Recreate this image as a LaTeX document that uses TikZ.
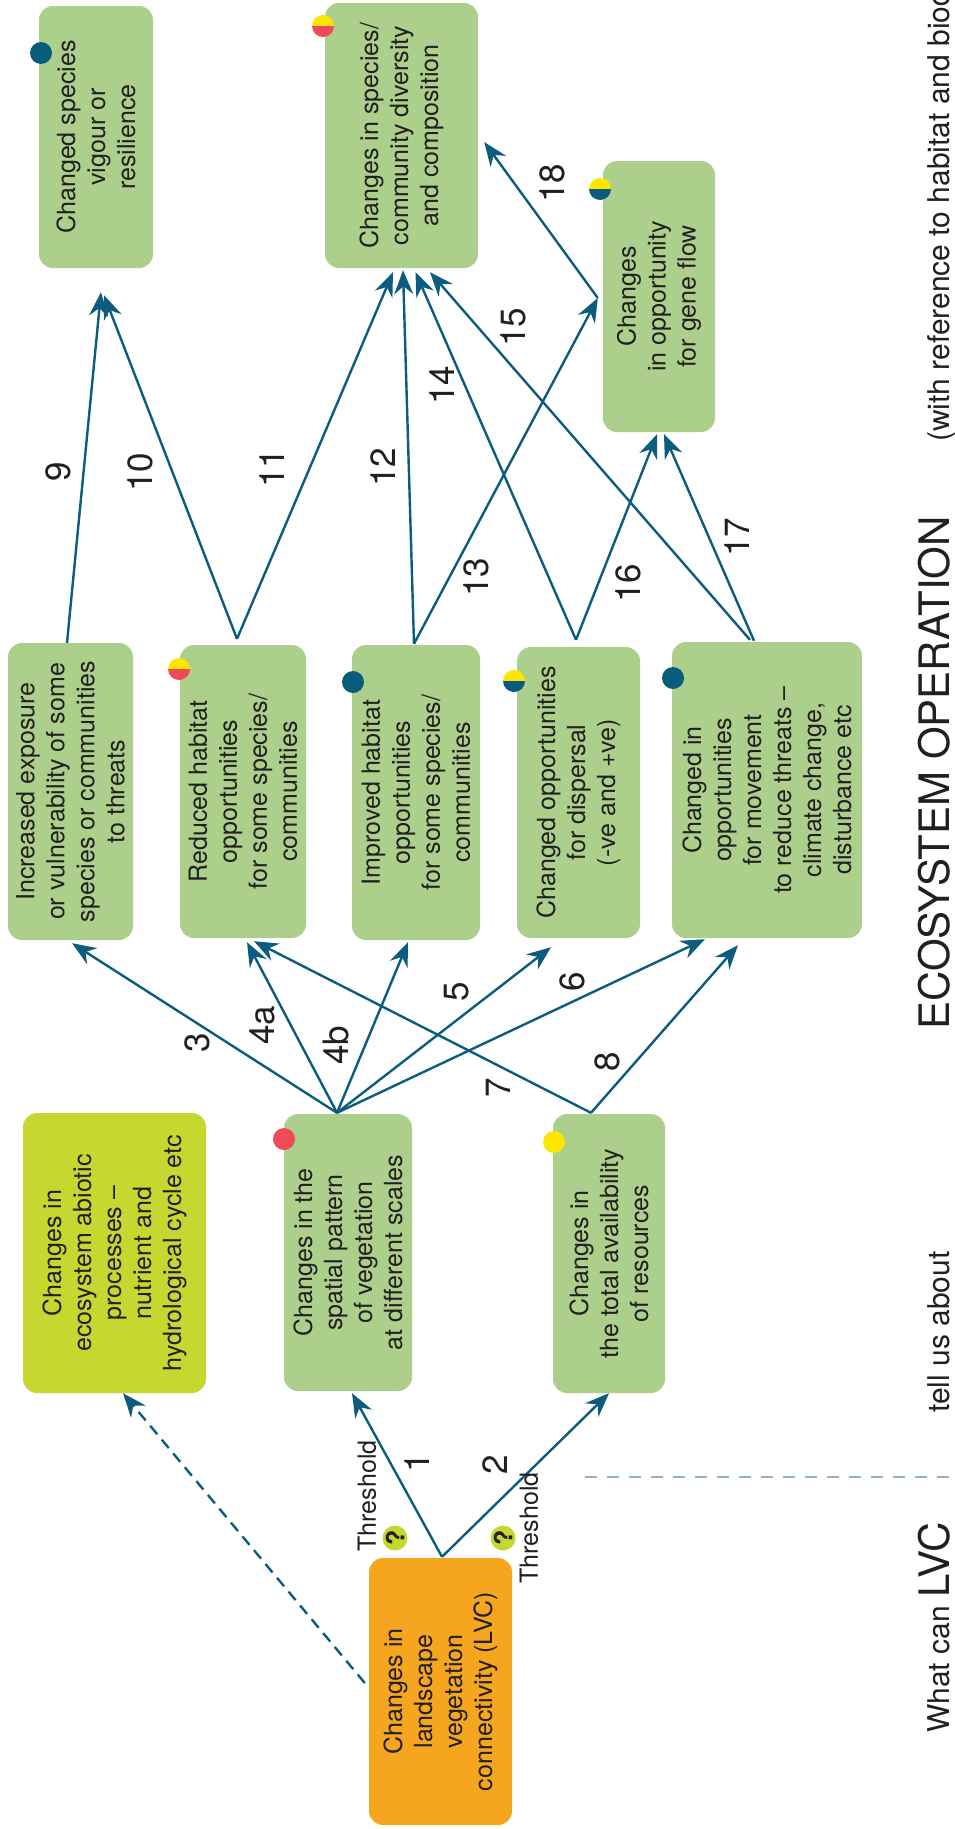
\documentclass[tikz,border=0pt]{standalone}
\usepackage{fontspec}
\setmainfont{TeX Gyre Heros}
\usepackage{tikz}
\usetikzlibrary{arrows.meta,positioning,calc}

\definecolor{flowblue}{HTML}{0C5C7D}
\definecolor{boxgreen}{HTML}{ACD08C}
\definecolor{abiolime}{HTML}{C6D82F}
\definecolor{lvcorange}{HTML}{F6A51F}
\definecolor{dotred}{HTML}{EE4B57}
\definecolor{dotyellow}{HTML}{FFE600}
\definecolor{dotblue}{HTML}{0A5C7C}
\definecolor{sepblue}{HTML}{8AB6C8}
\definecolor{inkgrey}{HTML}{231F20}

% two-colour marker: centre, upper colour, lower colour
\newcommand{\halfdot}[3]{%
  \begin{scope}
    \clip (#1) circle (11pt);
    \fill[#2] ($(#1)+(-12,-12)$) rectangle ($(#1)+(12,0)$);
    \fill[#3] ($(#1)+(-12,0)$) rectangle ($(#1)+(12,12)$);
  \end{scope}}

\tikzset{
  box/.style={rotate=90, rounded corners=14pt, fill=boxgreen, text=inkgrey,
    align=center, inner sep=2pt, font=\fontsize{25}{30}\selectfont},
  boxsize/.style 2 args={minimum height=#1, minimum width=#2},
  link/.style={draw=flowblue, line width=2.4pt,
    -{Stealth[length=24pt,width=19pt,inset=8pt]}},
  num/.style={rotate=90, text=inkgrey, inner sep=0pt, font=\fontsize{35}{40}\selectfont},
  thr/.style={rotate=90, text=inkgrey, inner sep=0pt, font=\fontsize{25}{28}\selectfont},
  qdot/.style={circle, fill=abiolime, inner sep=0pt, minimum size=25pt, rotate=90,
    text=inkgrey, font=\fontsize{25}{26}\selectfont\bfseries},
  side/.style={rotate=90, text=inkgrey, inner sep=0pt, font=\fontsize{30}{34}\selectfont},
  head/.style={rotate=90, text=inkgrey, inner sep=0pt, font=\fontsize{42}{48}\selectfont}
}

\begin{document}
\begin{tikzpicture}[x=1pt, y=-1pt]
        \useasboundingbox (0,0) rectangle (954,1829);
        \clip (0,0) rectangle (954,1829);

        % Outcome boxes
        \node[box, boxsize={114pt}{262pt}] (vig) at (96,137) {Changed species\\vigour or\\resilience};
        \node[box, boxsize={153pt}{265pt}] (spec) at (401.5,135.5) {Changes in species/\\community diversity\\and composition};
        \node[box, boxsize={112pt}{271pt}] (gene) at (659,296.5) {Changes\\in opportunity\\for gene flow};

        % Middle row
        \node[box, boxsize={125pt}{297pt}] (incr) at (70.5,791.5) {Increased exposure\\or vulnerability of some\\species or communities\\to threats};
        \node[box, boxsize={126pt}{293pt}] (redu) at (243,791.5) {Reduced habitat\\opportunities\\for some species/\\communities};
        \node[box, boxsize={128pt}{295pt}] (impr) at (416,792.5) {Improved habitat\\opportunities\\for some species/\\communities};
        \node[box, boxsize={123pt}{291pt}] (disp) at (578.5,792.5) {Changed opportunities\\for dispersal\\(-ve and +ve)};
        \node[box, boxsize={190pt}{296pt}] (move) at (767,790) {Changed in\\opportunities\\for movement\\to reduce threats --\\climate change,\\disturbance etc};

        % Lower row
        \node[box, boxsize={183pt}{280pt}, fill=abiolime] (abio) at (114.5,1253) {Changes in\\ecosystem abiotic\\processes --\\nutrient and\\hydrological cycle etc};
        \node[box, boxsize={128pt}{277pt}] (spat) at (348,1252.5) {Changes in the\\spatial pattern\\of vegetation\\at different scales};
        \node[box, boxsize={112pt}{279pt}] (reso) at (609,1253.5) {Changes in\\the total availability\\of resources};

        % Driver
        \node[box, boxsize={143pt}{267pt}, fill=lvcorange] (lvc) at (440.5,1691.5) {Changes in\\landscape\\vegetation\\connectivity (LVC)};

        % Markers
        \fill[dotblue] (41,53) circle (11pt);
        \halfdot{323,26}{dotyellow}{dotred}
        \halfdot{600,189}{dotyellow}{dotblue}
        \halfdot{179,669}{dotyellow}{dotred}
        \fill[dotblue] (353,682) circle (11pt);
        \halfdot{514,681}{dotyellow}{dotblue}
        \fill[dotblue] (673,678) circle (11pt);
        \fill[dotred] (284,1139) circle (11pt);
        \fill[dotyellow] (554,1142) circle (11pt);

        % Links from LVC
        \draw[link] ($(lvc.east)+(1.5,-1)$) -- ($(spat.west)+(4,2)$);
        \draw[link] ($(lvc.east)+(1.5,-1)$) -- (reso.west);
        \draw[link, dash pattern=on 11pt off 7pt] ($(lvc.north)+(-4,-8.5)$) -- ($(abio.west)+(8.5,0)$);

        % Links to middle row
        \draw[link] ($(spat.east)+(-11,-1)$) -- ($(incr.west)+(1.5,3)$);
        \draw[link] ($(spat.east)+(-11,-1)$) -- ($(redu.west)+(4,4)$);
        \draw[link] ($(spat.east)+(-11,-1)$) -- ($(impr.west)+(-8,2)$);
        \draw[link] ($(spat.east)+(-11,-1)$) -- ($(disp.west)+(-27.5,9)$);
        \draw[link] ($(spat.east)+(-11,-1)$) -- ($(move.west)+(-62,1)$);
        \draw[link] ($(reso.east)+(-18,-1)$) -- ($(redu.west)+(11,3)$);
        \draw[link] ($(reso.east)+(-18,-1)$) -- ($(move.west)+(-29,7)$);

        % Links to outcomes
        \draw[link] ($(incr.east)+(-3.5,0)$) -- ($(vig.west)+(5,24)$);
        \draw[link] ($(redu.east)+(-6,-6)$) -- ($(vig.west)+(8,27)$);
        \draw[link] ($(redu.east)+(-6,-6)$) -- ($(spec.west)+(-8.5,4)$);
        \draw[link] ($(impr.east)+(-2,-1)$) -- ($(spec.west)+(1.5,2)$);
        \draw[link] ($(impr.east)+(-2,-1)$) -- ($(gene.north)+(-5,1.5)$);
        \draw[link] ($(disp.east)+(-2.5,-7)$) -- ($(spec.west)+(14,4)$);
        \draw[link] ($(move.east)+(-17,-2)$) -- ($(spec.west)+(28.5,4)$);
        \draw[link] ($(disp.east)+(-2.5,-7)$) -- ($(gene.west)+(-2,2)$);
        \draw[link] ($(move.east)+(-13,-1)$) -- ($(gene.west)+(5,2)$);
        \draw[link] ($(gene.north)+(-5,1.5)$) -- ($(spec.south)+(6,6.5)$);

        % Link numbers
        \node[num] (n1) at (417,1463) {1};
        \node[num] (n2) at (495,1465) {2};
        \node[num] (n3) at (197,1043) {3};
        \node[num] (n4a) at (262,1025) {4a};
        \node[num] (n4b) at (336,1045) {4b};
        \node[num] (n5) at (457,992) {5};
        \node[num] (n6) at (572,982) {6};
        \node[num] (n7) at (498,1088) {7};
        \node[num] (n8) at (607,1062) {8};
        \node[num] (n9) at (58,472) {9};
        \node[num] (n10) at (140,472) {10};
        \node[num] (n11) at (272,468) {11};
        \node[num] (n12) at (383,467) {12};
        \node[num] (n13) at (476,577) {13};
        \node[num] (n14) at (442,385) {14};
        \node[num] (n15) at (513,327) {15};
        \node[num] (n16) at (628,583) {16};
        \node[num] (n17) at (737,537) {17};
        \node[num] (n18) at (552,183) {18};

        % Thresholds
        \node[thr] (thr1) at (367,1496) {Threshold};
        \node[thr] (thr2) at (529,1528) {Threshold};
        \node[qdot] (q1) at (395,1538) {?};
        \node[qdot] (q2) at (503,1538) {?};

        % Side headings
        \coordinate (sepL) at (585,1477);
        \coordinate (sepR) at (954,1477);
        \draw[sepblue, line width=2pt, dash pattern=on 12pt off 10pt] (sepL) -- (sepR);
        \node[side, anchor=base west] (refnote) at (949,442) {(with reference to habitat and biodiversity)};
        \node[head, anchor=base] (ecoop) at (949,773) {ECOSYSTEM OPERATION};
        \node[side, anchor=base] (tellus) at (949,1332) {tell us about};
        \node[side, anchor=base west] (whatcan) at (949,1733) {What can {\fontsize{42}{48}\selectfont LVC}};
    \end{tikzpicture}
\end{document}
